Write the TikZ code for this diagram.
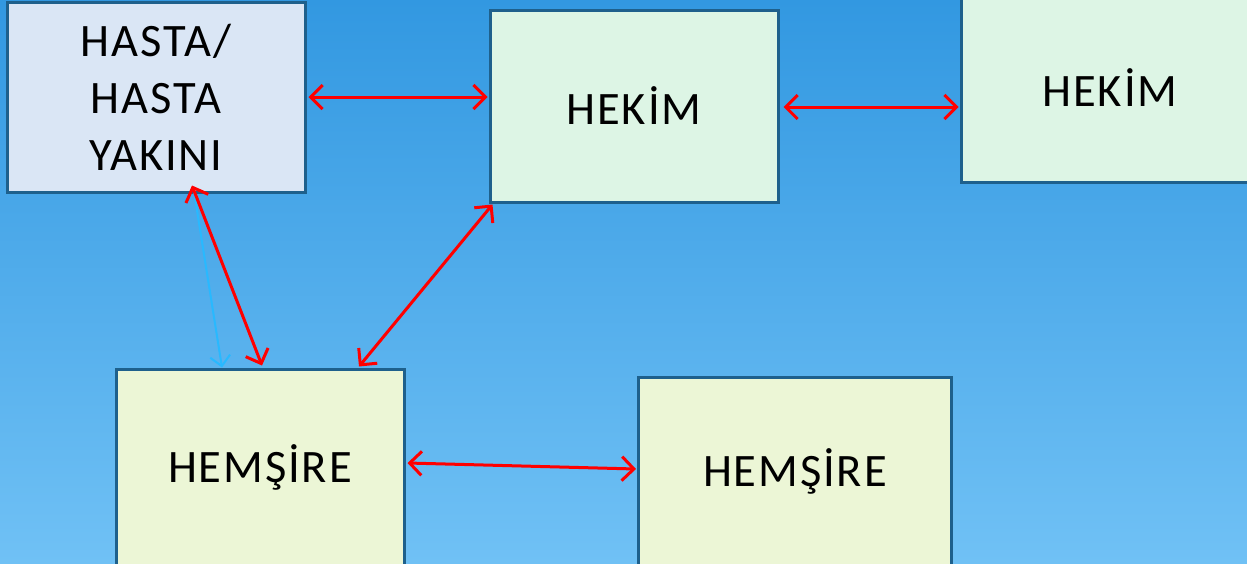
\documentclass[tikz,border=0pt]{standalone}
\usepackage{fontspec}
\setmainfont{Carlito}[LetterSpace=4]
\usetikzlibrary{arrows.meta}
\definecolor{bgtop}{RGB}{50,152,225}
\definecolor{bgbot}{RGB}{112,193,245}
\definecolor{boxline}{RGB}{30,96,140}
\definecolor{fillA}{RGB}{218,230,245}
\definecolor{fillB}{RGB}{221,245,229}
\definecolor{fillC}{RGB}{236,246,214}
\definecolor{redarr}{RGB}{255,0,0}
\definecolor{bluearr}{RGB}{40,185,255}
\tikzset{
  box/.style={draw=boxline, line width=3pt, rectangle, inner sep=0pt, align=center,
    font=\fontsize{46.5}{57}\selectfont, text=black},
  redlink/.style={draw=redarr, line width=3pt, {Straight Barb[length=12pt,width=24pt]}-{Straight Barb[length=12pt,width=24pt]}},
  bluelink/.style={draw=bluearr, line width=2pt, -{Straight Barb[length=10pt,width=20pt]}}
}
\begin{document}
\begin{tikzpicture}[x=1pt,y=-1pt]
\useasboundingbox (0,0) rectangle (1247,563);
\clip (0,0) rectangle (1247,563);
\shade[top color=bgtop, bottom color=bgbot] (0,0) rectangle (1247,563);
\node[box, fill=fillA, minimum width=298pt, minimum height=190pt] (hasta) at (156,97) {HASTA/\\HASTA\\YAKINI};
\node[box, fill=fillB, minimum width=288pt, minimum height=192pt] (hekimA) at (634,106) {HEKİM};
\node[box, fill=fillB, minimum width=298pt, minimum height=188pt] (hekimB) at (1110,88) {HEKİM};
\node[box, fill=fillC, minimum width=288pt, minimum height=196pt] (hemA) at (260,467) {HEMŞİRE};
\node[box, fill=fillC, minimum width=313pt, minimum height=188pt] (hemB) at (795,471) {HEMŞİRE};
\draw[bluelink] ([xshift=38pt,yshift=2pt]hasta.south) -- ([xshift=-38pt]hemA.north);
\draw[redlink] ([xshift=2pt]hasta.east) -- ([yshift=9pt,xshift=-1pt]hekimA.west);
\draw[redlink] ([yshift=-1pt,xshift=4pt]hekimA.east) -- ([yshift=-19pt,xshift=-1pt]hekimB.west);
\draw[redlink] ([xshift=36pt,yshift=8pt]hasta.south) -- ([xshift=2pt,yshift=2pt]hemA.north);
\draw[redlink] ([xshift=4pt,yshift=-1pt]hekimA.south west) -- ([xshift=99pt,yshift=1pt]hemA.north);
\draw[redlink] ([xshift=2pt,yshift=4pt]hemA.east) -- ([xshift=-1pt,yshift=2pt]hemB.west);
\end{tikzpicture}
\end{document}
